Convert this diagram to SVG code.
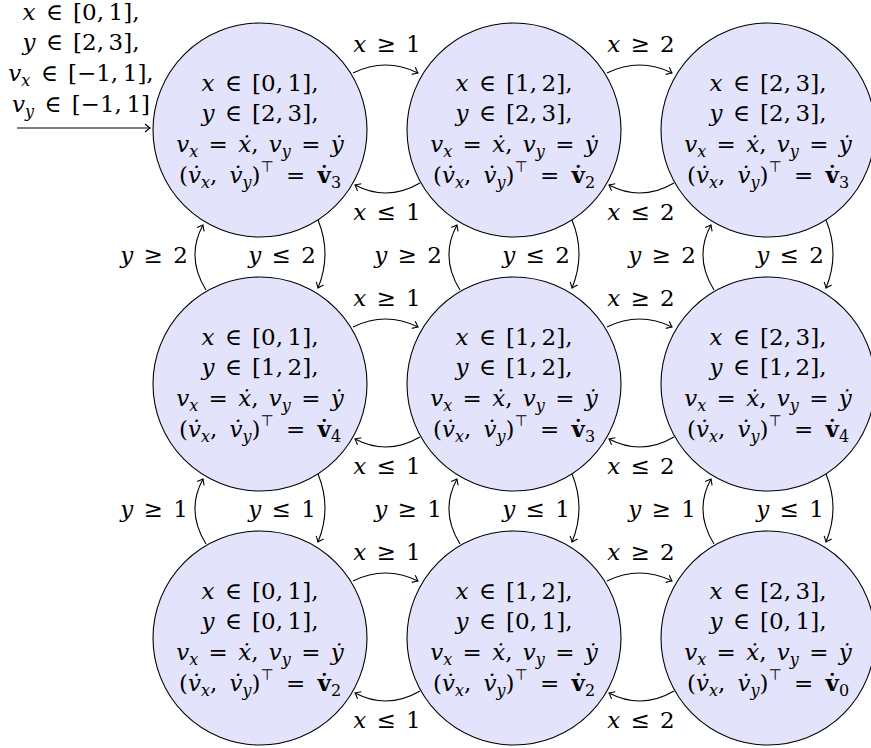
<svg xmlns="http://www.w3.org/2000/svg" width="871" height="748" viewBox="0 0 871 748">
<defs>
<style>
.n{fill:#e3e3fb;stroke:#000;stroke-width:1.1}
.t{font-family:'DejaVu Serif','Liberation Serif',serif;font-size:23px;text-anchor:middle;fill:#000;word-spacing:3px}
.i{font-style:italic}
.s{font-size:16px}
.b{font-weight:bold}
.tp{font-family:'DejaVu Sans',sans-serif;font-size:15px}
.w{word-spacing:5px}
.e{fill:none;stroke:#000;stroke-width:1.1;marker-end:url(#a)}
</style>
<marker id="a" viewBox="-7 -6 9 12" markerWidth="9" markerHeight="12" refX="0" refY="0" orient="auto" markerUnits="userSpaceOnUse">
<path d="M-5,-4 Q-1.5,-1 0,0 Q-1.5,1 -5,4" fill="none" stroke="#000" stroke-width="1.1"/>
</marker>
</defs>
<rect width="871" height="748" fill="#fff"/>

<g id="n00"><circle class="n" cx="260" cy="130" r="107"/>
<text class="t" x="260" y="91"><tspan class="i">x</tspan> &#x2208; [0,&#x2009;1],</text>
<text class="t" x="260" y="121"><tspan class="i">y</tspan> &#x2208; [2,&#x2009;3],</text>
<text class="t" x="260" y="152"><tspan class="i">v</tspan><tspan class="i s" dy="5">x</tspan><tspan dy="-5"> = </tspan><tspan class="i">&#x1E8B;</tspan>, <tspan class="i">v</tspan><tspan class="i s" dy="5">y</tspan><tspan dy="-5"> = </tspan><tspan class="i">&#x1E8F;</tspan></text>
<text class="t w" x="260" y="183">(<tspan class="i">v&#x307;</tspan><tspan class="i s" dy="5">x</tspan><tspan dy="-5">, </tspan><tspan class="i">v&#x307;</tspan><tspan class="i s" dy="5">y</tspan><tspan dy="-5">)</tspan><tspan class="tp" dy="-11">&#x22A4;</tspan><tspan dy="11"> = </tspan><tspan class="b">v&#x307;</tspan><tspan class="s" dy="5">3</tspan></text></g>

<g id="n01"><circle class="n" cx="514" cy="130" r="107"/>
<text class="t" x="514" y="91"><tspan class="i">x</tspan> &#x2208; [1,&#x2009;2],</text>
<text class="t" x="514" y="121"><tspan class="i">y</tspan> &#x2208; [2,&#x2009;3],</text>
<text class="t" x="514" y="152"><tspan class="i">v</tspan><tspan class="i s" dy="5">x</tspan><tspan dy="-5"> = </tspan><tspan class="i">&#x1E8B;</tspan>, <tspan class="i">v</tspan><tspan class="i s" dy="5">y</tspan><tspan dy="-5"> = </tspan><tspan class="i">&#x1E8F;</tspan></text>
<text class="t w" x="514" y="183">(<tspan class="i">v&#x307;</tspan><tspan class="i s" dy="5">x</tspan><tspan dy="-5">, </tspan><tspan class="i">v&#x307;</tspan><tspan class="i s" dy="5">y</tspan><tspan dy="-5">)</tspan><tspan class="tp" dy="-11">&#x22A4;</tspan><tspan dy="11"> = </tspan><tspan class="b">v&#x307;</tspan><tspan class="s" dy="5">2</tspan></text></g>

<g id="n02"><circle class="n" cx="768" cy="130" r="107"/>
<text class="t" x="768" y="91"><tspan class="i">x</tspan> &#x2208; [2,&#x2009;3],</text>
<text class="t" x="768" y="121"><tspan class="i">y</tspan> &#x2208; [2,&#x2009;3],</text>
<text class="t" x="768" y="152"><tspan class="i">v</tspan><tspan class="i s" dy="5">x</tspan><tspan dy="-5"> = </tspan><tspan class="i">&#x1E8B;</tspan>, <tspan class="i">v</tspan><tspan class="i s" dy="5">y</tspan><tspan dy="-5"> = </tspan><tspan class="i">&#x1E8F;</tspan></text>
<text class="t w" x="768" y="183">(<tspan class="i">v&#x307;</tspan><tspan class="i s" dy="5">x</tspan><tspan dy="-5">, </tspan><tspan class="i">v&#x307;</tspan><tspan class="i s" dy="5">y</tspan><tspan dy="-5">)</tspan><tspan class="tp" dy="-11">&#x22A4;</tspan><tspan dy="11"> = </tspan><tspan class="b">v&#x307;</tspan><tspan class="s" dy="5">3</tspan></text></g>

<g id="n10"><circle class="n" cx="260" cy="384" r="107"/>
<text class="t" x="260" y="345"><tspan class="i">x</tspan> &#x2208; [0,&#x2009;1],</text>
<text class="t" x="260" y="375"><tspan class="i">y</tspan> &#x2208; [1,&#x2009;2],</text>
<text class="t" x="260" y="406"><tspan class="i">v</tspan><tspan class="i s" dy="5">x</tspan><tspan dy="-5"> = </tspan><tspan class="i">&#x1E8B;</tspan>, <tspan class="i">v</tspan><tspan class="i s" dy="5">y</tspan><tspan dy="-5"> = </tspan><tspan class="i">&#x1E8F;</tspan></text>
<text class="t w" x="260" y="437">(<tspan class="i">v&#x307;</tspan><tspan class="i s" dy="5">x</tspan><tspan dy="-5">, </tspan><tspan class="i">v&#x307;</tspan><tspan class="i s" dy="5">y</tspan><tspan dy="-5">)</tspan><tspan class="tp" dy="-11">&#x22A4;</tspan><tspan dy="11"> = </tspan><tspan class="b">v&#x307;</tspan><tspan class="s" dy="5">4</tspan></text></g>

<g id="n11"><circle class="n" cx="514" cy="384" r="107"/>
<text class="t" x="514" y="345"><tspan class="i">x</tspan> &#x2208; [1,&#x2009;2],</text>
<text class="t" x="514" y="375"><tspan class="i">y</tspan> &#x2208; [1,&#x2009;2],</text>
<text class="t" x="514" y="406"><tspan class="i">v</tspan><tspan class="i s" dy="5">x</tspan><tspan dy="-5"> = </tspan><tspan class="i">&#x1E8B;</tspan>, <tspan class="i">v</tspan><tspan class="i s" dy="5">y</tspan><tspan dy="-5"> = </tspan><tspan class="i">&#x1E8F;</tspan></text>
<text class="t w" x="514" y="437">(<tspan class="i">v&#x307;</tspan><tspan class="i s" dy="5">x</tspan><tspan dy="-5">, </tspan><tspan class="i">v&#x307;</tspan><tspan class="i s" dy="5">y</tspan><tspan dy="-5">)</tspan><tspan class="tp" dy="-11">&#x22A4;</tspan><tspan dy="11"> = </tspan><tspan class="b">v&#x307;</tspan><tspan class="s" dy="5">3</tspan></text></g>

<g id="n12"><circle class="n" cx="768" cy="384" r="107"/>
<text class="t" x="768" y="345"><tspan class="i">x</tspan> &#x2208; [2,&#x2009;3],</text>
<text class="t" x="768" y="375"><tspan class="i">y</tspan> &#x2208; [1,&#x2009;2],</text>
<text class="t" x="768" y="406"><tspan class="i">v</tspan><tspan class="i s" dy="5">x</tspan><tspan dy="-5"> = </tspan><tspan class="i">&#x1E8B;</tspan>, <tspan class="i">v</tspan><tspan class="i s" dy="5">y</tspan><tspan dy="-5"> = </tspan><tspan class="i">&#x1E8F;</tspan></text>
<text class="t w" x="768" y="437">(<tspan class="i">v&#x307;</tspan><tspan class="i s" dy="5">x</tspan><tspan dy="-5">, </tspan><tspan class="i">v&#x307;</tspan><tspan class="i s" dy="5">y</tspan><tspan dy="-5">)</tspan><tspan class="tp" dy="-11">&#x22A4;</tspan><tspan dy="11"> = </tspan><tspan class="b">v&#x307;</tspan><tspan class="s" dy="5">4</tspan></text></g>

<g id="n20"><circle class="n" cx="260" cy="638" r="107"/>
<text class="t" x="260" y="599"><tspan class="i">x</tspan> &#x2208; [0,&#x2009;1],</text>
<text class="t" x="260" y="629"><tspan class="i">y</tspan> &#x2208; [0,&#x2009;1],</text>
<text class="t" x="260" y="660"><tspan class="i">v</tspan><tspan class="i s" dy="5">x</tspan><tspan dy="-5"> = </tspan><tspan class="i">&#x1E8B;</tspan>, <tspan class="i">v</tspan><tspan class="i s" dy="5">y</tspan><tspan dy="-5"> = </tspan><tspan class="i">&#x1E8F;</tspan></text>
<text class="t w" x="260" y="691">(<tspan class="i">v&#x307;</tspan><tspan class="i s" dy="5">x</tspan><tspan dy="-5">, </tspan><tspan class="i">v&#x307;</tspan><tspan class="i s" dy="5">y</tspan><tspan dy="-5">)</tspan><tspan class="tp" dy="-11">&#x22A4;</tspan><tspan dy="11"> = </tspan><tspan class="b">v&#x307;</tspan><tspan class="s" dy="5">2</tspan></text></g>

<g id="n21"><circle class="n" cx="514" cy="638" r="107"/>
<text class="t" x="514" y="599"><tspan class="i">x</tspan> &#x2208; [1,&#x2009;2],</text>
<text class="t" x="514" y="629"><tspan class="i">y</tspan> &#x2208; [0,&#x2009;1],</text>
<text class="t" x="514" y="660"><tspan class="i">v</tspan><tspan class="i s" dy="5">x</tspan><tspan dy="-5"> = </tspan><tspan class="i">&#x1E8B;</tspan>, <tspan class="i">v</tspan><tspan class="i s" dy="5">y</tspan><tspan dy="-5"> = </tspan><tspan class="i">&#x1E8F;</tspan></text>
<text class="t w" x="514" y="691">(<tspan class="i">v&#x307;</tspan><tspan class="i s" dy="5">x</tspan><tspan dy="-5">, </tspan><tspan class="i">v&#x307;</tspan><tspan class="i s" dy="5">y</tspan><tspan dy="-5">)</tspan><tspan class="tp" dy="-11">&#x22A4;</tspan><tspan dy="11"> = </tspan><tspan class="b">v&#x307;</tspan><tspan class="s" dy="5">2</tspan></text></g>

<g id="n22"><circle class="n" cx="768" cy="638" r="107"/>
<text class="t" x="768" y="599"><tspan class="i">x</tspan> &#x2208; [2,&#x2009;3],</text>
<text class="t" x="768" y="629"><tspan class="i">y</tspan> &#x2208; [0,&#x2009;1],</text>
<text class="t" x="768" y="660"><tspan class="i">v</tspan><tspan class="i s" dy="5">x</tspan><tspan dy="-5"> = </tspan><tspan class="i">&#x1E8B;</tspan>, <tspan class="i">v</tspan><tspan class="i s" dy="5">y</tspan><tspan dy="-5"> = </tspan><tspan class="i">&#x1E8F;</tspan></text>
<text class="t w" x="768" y="691">(<tspan class="i">v&#x307;</tspan><tspan class="i s" dy="5">x</tspan><tspan dy="-5">, </tspan><tspan class="i">v&#x307;</tspan><tspan class="i s" dy="5">y</tspan><tspan dy="-5">)</tspan><tspan class="tp" dy="-11">&#x22A4;</tspan><tspan dy="11"> = </tspan><tspan class="b">v&#x307;</tspan><tspan class="s" dy="5">0</tspan></text></g>

<g id="connectors">
<path class="e" d="M17,128 L150,128"/>
<path class="e" d="M353,73 Q385.5,57 418,73"/>
<path class="e" d="M420,183 Q387.5,202 355,185"/>
<path class="e" d="M607,73 Q639.5,57 672,73"/>
<path class="e" d="M674,183 Q641.5,202 609,185"/>
<path class="e" d="M353,327 Q385.5,311 418,327"/>
<path class="e" d="M420,437 Q387.5,456 355,439"/>
<path class="e" d="M607,327 Q639.5,311 672,327"/>
<path class="e" d="M674,437 Q641.5,456 609,439"/>
<path class="e" d="M353,581 Q385.5,565 418,581"/>
<path class="e" d="M420,691 Q387.5,710 355,693"/>
<path class="e" d="M607,581 Q639.5,565 672,581"/>
<path class="e" d="M674,691 Q641.5,710 609,693"/>
<path class="e" d="M206,290 Q185.5,257 203,225"/>
<path class="e" d="M318,220 Q332,254 318,288"/>
<path class="e" d="M460,290 Q439.5,257 457,225"/>
<path class="e" d="M572,220 Q586,254 572,288"/>
<path class="e" d="M714,290 Q693.5,257 711,225"/>
<path class="e" d="M826,220 Q840,254 826,288"/>
<path class="e" d="M206,544 Q185.5,511 203,479"/>
<path class="e" d="M318,474 Q332,508 318,542"/>
<path class="e" d="M460,544 Q439.5,511 457,479"/>
<path class="e" d="M572,474 Q586,508 572,542"/>
<path class="e" d="M714,544 Q693.5,511 711,479"/>
<path class="e" d="M826,474 Q840,508 826,542"/>
</g>

<g id="labels">
<text class="t" x="81" y="20"><tspan class="i">x</tspan> &#x2208; [0,&#x2009;1],</text>
<text class="t" x="81" y="50"><tspan class="i">y</tspan> &#x2208; [2,&#x2009;3],</text>
<text class="t" x="81" y="81"><tspan class="i">v</tspan><tspan class="i s" dy="5">x</tspan><tspan dy="-5"> &#x2208; [&#x2212;1,&#x2009;1],</tspan></text>
<text class="t" x="81" y="112"><tspan class="i">v</tspan><tspan class="i s" dy="5">y</tspan><tspan dy="-5"> &#x2208; [&#x2212;1,&#x2009;1]</tspan></text>

<text class="t" x="387" y="52"><tspan class="i">x</tspan> &#x2265; 1</text>
<text class="t" x="387" y="220"><tspan class="i">x</tspan> &#x2264; 1</text>
<text class="t" x="641" y="52"><tspan class="i">x</tspan> &#x2265; 2</text>
<text class="t" x="641" y="220"><tspan class="i">x</tspan> &#x2264; 2</text>
<text class="t" x="387" y="306"><tspan class="i">x</tspan> &#x2265; 1</text>
<text class="t" x="387" y="474"><tspan class="i">x</tspan> &#x2264; 1</text>
<text class="t" x="641" y="306"><tspan class="i">x</tspan> &#x2265; 2</text>
<text class="t" x="641" y="474"><tspan class="i">x</tspan> &#x2264; 2</text>
<text class="t" x="387" y="560"><tspan class="i">x</tspan> &#x2265; 1</text>
<text class="t" x="387" y="728"><tspan class="i">x</tspan> &#x2264; 1</text>
<text class="t" x="641" y="560"><tspan class="i">x</tspan> &#x2265; 2</text>
<text class="t" x="641" y="728"><tspan class="i">x</tspan> &#x2264; 2</text>

<text class="t" x="154" y="263"><tspan class="i">y</tspan> &#x2265; 2</text>
<text class="t" x="282" y="263"><tspan class="i">y</tspan> &#x2264; 2</text>
<text class="t" x="408" y="263"><tspan class="i">y</tspan> &#x2265; 2</text>
<text class="t" x="536" y="263"><tspan class="i">y</tspan> &#x2264; 2</text>
<text class="t" x="662" y="263"><tspan class="i">y</tspan> &#x2265; 2</text>
<text class="t" x="790" y="263"><tspan class="i">y</tspan> &#x2264; 2</text>
<text class="t" x="154" y="517"><tspan class="i">y</tspan> &#x2265; 1</text>
<text class="t" x="282" y="517"><tspan class="i">y</tspan> &#x2264; 1</text>
<text class="t" x="408" y="517"><tspan class="i">y</tspan> &#x2265; 1</text>
<text class="t" x="536" y="517"><tspan class="i">y</tspan> &#x2264; 1</text>
<text class="t" x="662" y="517"><tspan class="i">y</tspan> &#x2265; 1</text>
<text class="t" x="790" y="517"><tspan class="i">y</tspan> &#x2264; 1</text>
</g>
</svg>
